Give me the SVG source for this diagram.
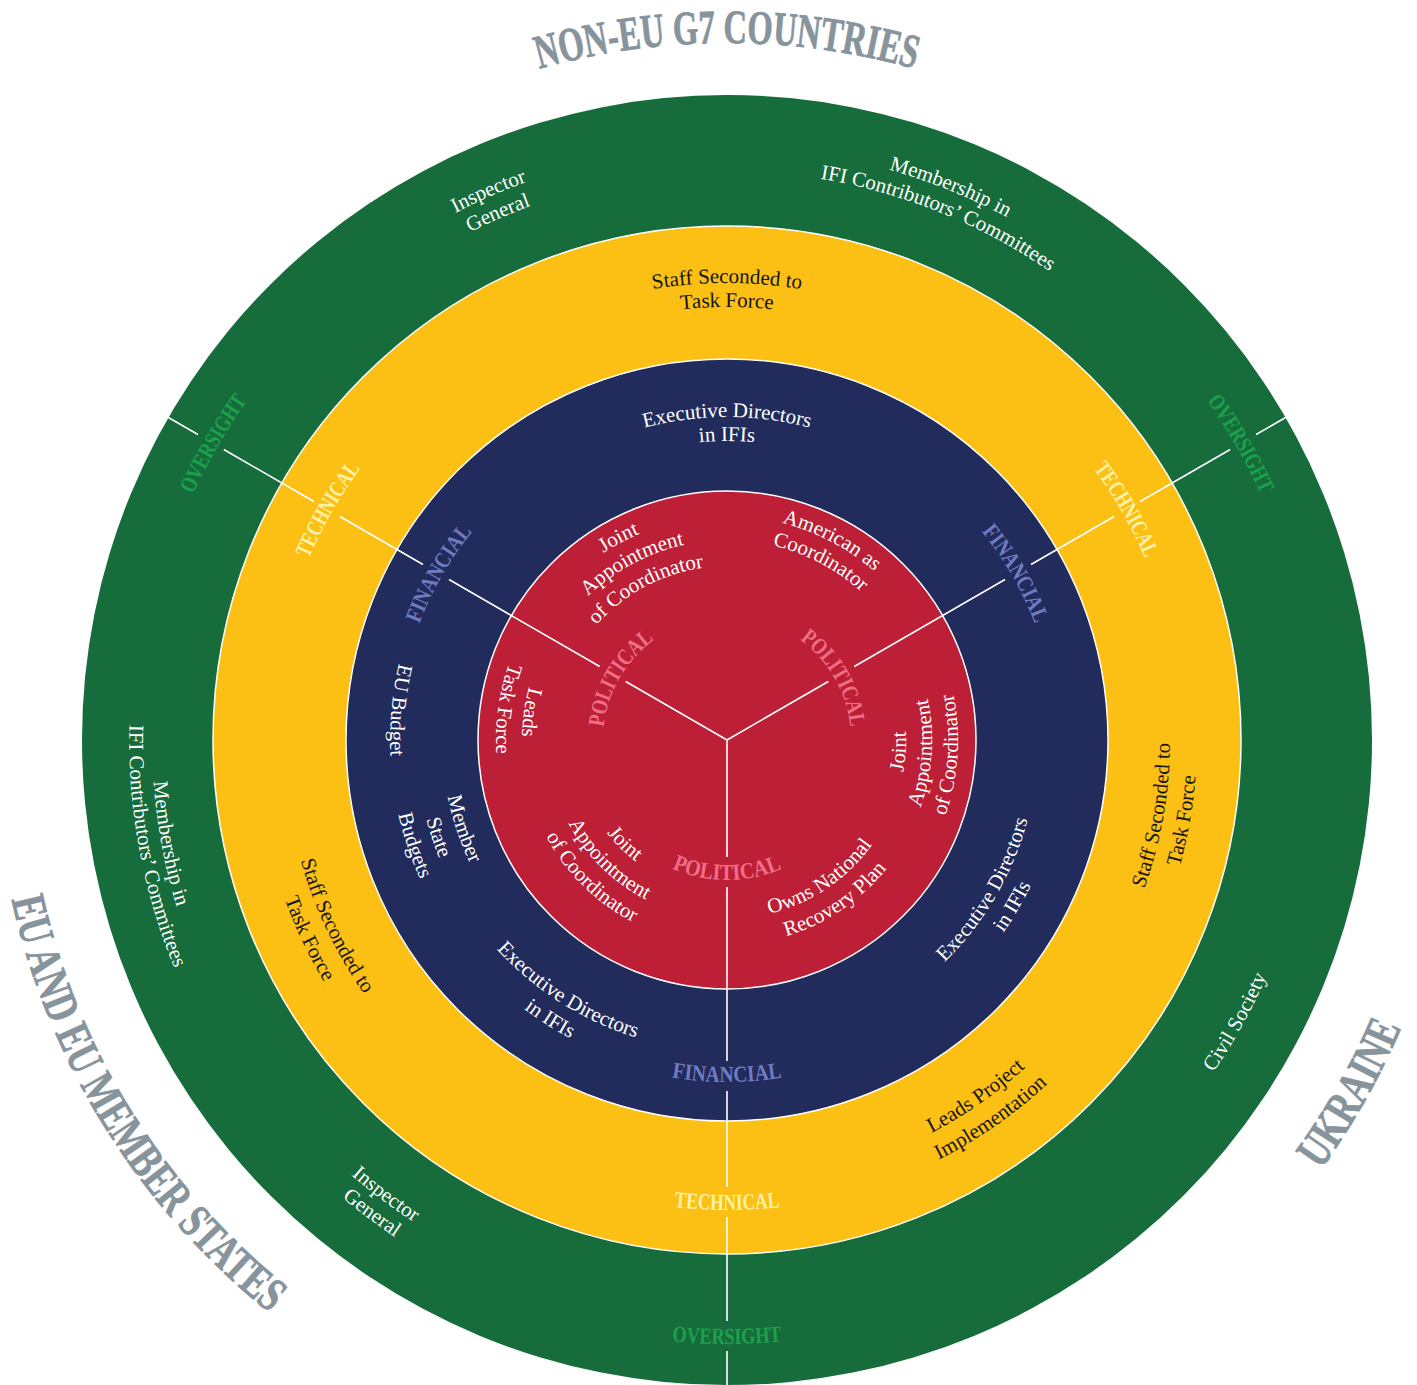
<svg xmlns="http://www.w3.org/2000/svg" width="1417" height="1385" viewBox="0 0 1417 1385">
<defs>
<style>
.t{font-family:"Liberation Serif","Times New Roman",serif;font-size:21px;text-anchor:middle}
.w{fill:#ffffff}
.k{fill:#151515}
.lb{font-family:"Liberation Serif","Times New Roman",serif;font-weight:bold;font-size:23px;text-anchor:middle}
.pol{fill:#ee6f86}
.fin{fill:#6f7cc0}
.tec{fill:#fff2a8}
.ovs{fill:#1ba24b}
.ttl{font-family:"Liberation Serif","Times New Roman",serif;font-weight:bold;font-size:48px;text-anchor:middle;fill:#87949c;stroke:#87949c;stroke-width:0.8}
.ring{stroke:#ffffff;stroke-width:1.5}
.conn{stroke:#ffffff;stroke-width:1.6;fill:none}
</style>
<path id="u124" d="M603,740 A124,124 0 0 1 851,740"/>
<path id="u174" d="M553,740 A174,174 0 0 1 901,740"/>
<path id="u200" d="M527,740 A200,200 0 0 1 927,740"/>
<path id="u224" d="M503,740 A224,224 0 0 1 951,740"/>
<path id="u299" d="M428,740 A299,299 0 0 1 1026,740"/>
<path id="u323" d="M404,740 A323,323 0 0 1 1050,740"/>
<path id="u329" d="M398,740 A329,329 0 0 1 1056,740"/>
<path id="u433" d="M294,740 A433,433 0 0 1 1160,740"/>
<path id="u456" d="M271,740 A456,456 0 0 1 1183,740"/>
<path id="u457" d="M270,740 A457,457 0 0 1 1184,740"/>
<path id="u569" d="M158,740 A569,569 0 0 1 1296,740"/>
<path id="u588" d="M139,740 A588,588 0 0 1 1315,740"/>
<path id="u593" d="M134,740 A593,593 0 0 1 1320,740"/>
<path id="u697" d="M30,740 A697,697 0 0 1 1424,740"/>
<path id="d140" d="M587,740 A140,140 0 0 0 867,740"/>
<path id="d152" d="M575,740 A152,152 0 0 0 879,740"/>
<path id="d179" d="M548,740 A179,179 0 0 0 906,740"/>
<path id="d205" d="M522,740 A205,205 0 0 0 932,740"/>
<path id="d231" d="M496,740 A231,231 0 0 0 958,740"/>
<path id="d285" d="M442,740 A285,285 0 0 0 1012,740"/>
<path id="d311" d="M416,740 A311,311 0 0 0 1038,740"/>
<path id="d337" d="M390,740 A337,337 0 0 0 1064,740"/>
<path id="d342" d="M385,740 A342,342 0 0 0 1069,740"/>
<path id="d443" d="M284,740 A443,443 0 0 0 1170,740"/>
<path id="d470" d="M257,740 A470,470 0 0 0 1197,740"/>
<path id="d575" d="M152,740 A575,575 0 0 0 1302,740"/>
<path id="d589" d="M138,740 A589,589 0 0 0 1316,740"/>
<path id="d598" d="M129,740 A598,598 0 0 0 1325,740"/>
<path id="d604" d="M123,740 A604,604 0 0 0 1331,740"/>
<path id="d733" d="M-6,740 A733,733 0 0 0 1460,740"/>
</defs>
<rect width="1417" height="1385" fill="#ffffff"/>

<g id="rings">
<circle id="ring-oversight" cx="727" cy="740" r="645" fill="#166c3b"/>
<circle id="ring-technical" class="ring" cx="727" cy="740" r="514" fill="#fcbf13"/>
<circle id="ring-financial" class="ring" cx="727" cy="740" r="381" fill="#212b5c"/>
<circle id="ring-political" class="ring" cx="727" cy="740" r="249" fill="#bc1f36"/>
</g>

<g id="connectors" class="conn">
<path d="M727,740 L625.7,681.5 M599.7,666.5 L449,579.5 M423,564.5 L339.9,516.5 M313.9,501.5 L223.8,449.5 M197.9,434.5 L168.4,417.5"/>
<path d="M727,740 L828.3,681.5 M854.3,666.5 L1005,579.5 M1031,564.5 L1114.1,516.5 M1140.1,501.5 L1230.2,449.5 M1256.1,434.5 L1285.6,417.5"/>
<path d="M727,740 L727,857 M727,887 L727,1061 M727,1091 L727,1187 M727,1217 L727,1321 M727,1351 L727,1385"/>
</g>

<g id="titles">
<g id="title-nonEU"><text class="ttl"><textPath href="#u697" startOffset="50%" textLength="380" lengthAdjust="spacingAndGlyphs">NON-EU G7 COUNTRIES</textPath></text></g>
<g id="title-EU" transform="rotate(58 727 740)"><text class="ttl"><textPath href="#d733" startOffset="50%" textLength="497" lengthAdjust="spacingAndGlyphs">EU AND EU MEMBER STATES</textPath></text></g>
<g id="title-ukraine" transform="rotate(-60.5 727 740)"><text class="ttl"><textPath href="#d733" startOffset="50%" textLength="164" lengthAdjust="spacingAndGlyphs">UKRAINE</textPath></text></g>
</g>

<g id="labels-political">
<g transform="rotate(-60 727 740)"><text class="lb pol"><textPath href="#u124" startOffset="50%" textLength="104" lengthAdjust="spacingAndGlyphs">POLITICAL</textPath></text></g>
<g transform="rotate(60 727 740)"><text class="lb pol"><textPath href="#u124" startOffset="50%" textLength="104" lengthAdjust="spacingAndGlyphs">POLITICAL</textPath></text></g>
<text class="lb pol"><textPath href="#d140" startOffset="50%" textLength="113" lengthAdjust="spacingAndGlyphs">POLITICAL</textPath></text>
</g>
<g id="labels-financial">
<g transform="rotate(-60 727 740)"><text class="lb fin"><textPath href="#u329" startOffset="50%" textLength="107" lengthAdjust="spacingAndGlyphs">FINANCIAL</textPath></text></g>
<g transform="rotate(60 727 740)"><text class="lb fin"><textPath href="#u329" startOffset="50%" textLength="107" lengthAdjust="spacingAndGlyphs">FINANCIAL</textPath></text></g>
<text class="lb fin"><textPath href="#d342" startOffset="50%" textLength="111" lengthAdjust="spacingAndGlyphs">FINANCIAL</textPath></text>
</g>
<g id="labels-technical">
<g transform="rotate(-60 727 740)"><text class="lb tec"><textPath href="#u456" startOffset="50%" textLength="104" lengthAdjust="spacingAndGlyphs">TECHNICAL</textPath></text></g>
<g transform="rotate(60 727 740)"><text class="lb tec"><textPath href="#u456" startOffset="50%" textLength="104" lengthAdjust="spacingAndGlyphs">TECHNICAL</textPath></text></g>
<text class="lb tec"><textPath href="#d470" startOffset="50%" textLength="106" lengthAdjust="spacingAndGlyphs">TECHNICAL</textPath></text>
</g>
<g id="labels-oversight">
<g transform="rotate(-60 727 740)"><text class="lb ovs"><textPath href="#u588" startOffset="50%" textLength="108" lengthAdjust="spacingAndGlyphs">OVERSIGHT</textPath></text></g>
<g transform="rotate(60 727 740)"><text class="lb ovs"><textPath href="#u588" startOffset="50%" textLength="108" lengthAdjust="spacingAndGlyphs">OVERSIGHT</textPath></text></g>
<text class="lb ovs"><textPath href="#d604" startOffset="50%" textLength="110" lengthAdjust="spacingAndGlyphs">OVERSIGHT</textPath></text>
</g>

<g id="node-oversight-g7-inspector" transform="rotate(-23.5 727 740)">
<text class="t w"><textPath href="#u593" startOffset="50%">Inspector</textPath></text>
<text class="t w"><textPath href="#u569" startOffset="50%">General</textPath></text>
</g>
<g id="node-oversight-g7-membership" transform="rotate(22 727 740)">
<text class="t w"><textPath href="#u593" startOffset="50%">Membership in</textPath></text>
<text class="t w"><textPath href="#u569" startOffset="50%">IFI Contributors’ Committees</textPath></text>
</g>
<g id="node-oversight-eu-membership" transform="rotate(79.5 727 740)">
<text class="t w"><textPath href="#d575" startOffset="50%">Membership in</textPath></text>
<text class="t w"><textPath href="#d598" startOffset="50%">IFI Contributors’ Committees</textPath></text>
</g>
<g id="node-oversight-eu-inspector" transform="rotate(36.9 727 740)">
<text class="t w"><textPath href="#d575" startOffset="50%">Inspector</textPath></text>
<text class="t w"><textPath href="#d598" startOffset="50%">General</textPath></text>
</g>
<g id="node-oversight-ua-civil" transform="rotate(-61 727 740)">
<text class="t w"><textPath href="#d589" startOffset="50%">Civil Society</textPath></text>
</g>

<g id="node-technical-g7-staff">
<text class="t k"><textPath href="#u457" startOffset="50%">Staff Seconded to</textPath></text>
<text class="t k"><textPath href="#u433" startOffset="50%">Task Force</textPath></text>
</g>
<g id="node-technical-ua-staff" transform="rotate(-80 727 740)">
<text class="t k"><textPath href="#d443" startOffset="50%">Staff Seconded to</textPath></text>
<text class="t k"><textPath href="#d470" startOffset="50%">Task Force</textPath></text>
</g>
<g id="node-technical-eu-staff" transform="rotate(64.6 727 740)">
<text class="t k"><textPath href="#d443" startOffset="50%">Staff Seconded to</textPath></text>
<text class="t k"><textPath href="#d470" startOffset="50%">Task Force</textPath></text>
</g>
<g id="node-technical-ua-leads" transform="rotate(-34.9 727 740)">
<text class="t k"><textPath href="#d443" startOffset="50%">Leads Project</textPath></text>
<text class="t k"><textPath href="#d470" startOffset="50%">Implementation</textPath></text>
</g>

<g id="node-financial-g7-exec">
<text class="t w"><textPath href="#u323" startOffset="50%">Executive Directors</textPath></text>
<text class="t w"><textPath href="#u299" startOffset="50%">in IFIs</textPath></text>
</g>
<g id="node-financial-eu-budget" transform="rotate(95.2 727 740)">
<text class="t w"><textPath href="#d337" startOffset="50%">EU Budget</textPath></text>
</g>
<g id="node-financial-eu-member" transform="rotate(71.4 727 740)">
<text class="t w"><textPath href="#d285" startOffset="50%">Member</textPath></text>
<text class="t w"><textPath href="#d311" startOffset="50%">State</textPath></text>
<text class="t w"><textPath href="#d337" startOffset="50%">Budgets</textPath></text>
</g>
<g id="node-financial-eu-exec" transform="rotate(32.4 727 740)">
<text class="t w"><textPath href="#d311" startOffset="50%">Executive Directors</textPath></text>
<text class="t w"><textPath href="#d337" startOffset="50%">in IFIs</textPath></text>
</g>
<g id="node-financial-ua-exec" transform="rotate(-59.8 727 740)">
<text class="t w"><textPath href="#d311" startOffset="50%">Executive Directors</textPath></text>
<text class="t w"><textPath href="#d337" startOffset="50%">in IFIs</textPath></text>
</g>

<g id="node-political-g7-joint" transform="rotate(-28.2 727 740)">
<text class="t w"><textPath href="#u224" startOffset="50%">Joint</textPath></text>
<text class="t w"><textPath href="#u200" startOffset="50%">Appointment</textPath></text>
<text class="t w"><textPath href="#u174" startOffset="50%">of Coordinator</textPath></text>
</g>
<g id="node-political-ua-american" transform="rotate(27.7 727 740)">
<text class="t w"><textPath href="#u224" startOffset="50%">American as</textPath></text>
<text class="t w"><textPath href="#u200" startOffset="50%">Coordinator</textPath></text>
</g>
<g id="node-political-eu-leads" transform="rotate(98 727 740)">
<text class="t w"><textPath href="#d205" startOffset="50%">Leads</textPath></text>
<text class="t w"><textPath href="#d231" startOffset="50%">Task Force</textPath></text>
</g>
<g id="node-political-ua-joint" transform="rotate(-86.2 727 740)">
<text class="t w"><textPath href="#d179" startOffset="50%">Joint</textPath></text>
<text class="t w"><textPath href="#d205" startOffset="50%">Appointment</textPath></text>
<text class="t w"><textPath href="#d231" startOffset="50%">of Coordinator</textPath></text>
</g>
<g id="node-political-eu-joint" transform="rotate(44.6 727 740)">
<text class="t w"><textPath href="#d152" startOffset="50%">Joint</textPath></text>
<text class="t w"><textPath href="#d179" startOffset="50%">Appointment</textPath></text>
<text class="t w"><textPath href="#d205" startOffset="50%">of Coordinator</textPath></text>
</g>
<g id="node-political-ua-owns" transform="rotate(-34 727 740)">
<text class="t w"><textPath href="#d179" startOffset="50%">Owns National</textPath></text>
<text class="t w"><textPath href="#d205" startOffset="50%">Recovery Plan</textPath></text>
</g>
</svg>
